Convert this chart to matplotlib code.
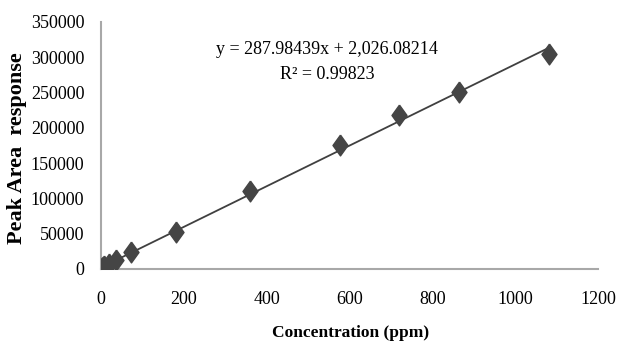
import matplotlib
matplotlib.use("Agg")
import matplotlib.pyplot as plt
import numpy as np

# calibration data
conc = [1.8, 3.6, 7.2, 18, 36, 72, 180, 360, 576, 720, 864, 1080]
area = [1500, 3200, 4800, 7500, 12500, 23500, 53000, 110000, 175000, 218000, 250500, 305000]
slope = 287.98439
intercept = 2026.08214
xticks = [0, 200, 400, 600, 800, 1000, 1200]
yticks = [0, 50000, 100000, 150000, 200000, 250000, 300000, 350000]

plt.rcParams['font.family'] = ['Liberation Serif', 'DejaVu Serif']

# diamond a bit wider than 'd', narrower than 'D'
diamond = [(0, 1), (0.72, 0), (0, -1), (-0.72, 0), (0, 1)]

fig = plt.figure(figsize=(6.2, 3.52), dpi=100)
ax = fig.add_axes([0.163, 0.236, 0.802, 0.702])

ax.plot(conc, area, linestyle='none', marker=diamond, markersize=15,
        color='#454545', zorder=3)
xfit = np.array([conc[0], conc[-1]])
ax.plot(xfit, slope * xfit + intercept, color='#404040', lw=1.3, zorder=2)

ax.set_xlim(0, 1200)
ax.set_ylim(0, 350000)
ax.set_xticks(xticks)
ax.set_yticks(yticks)
ax.set_xticklabels([str(t) for t in xticks], fontsize=13)
ax.set_yticklabels([str(t) for t in yticks], fontsize=13)
ax.tick_params(length=0)
ax.tick_params(axis='y', pad=12)
ax.tick_params(axis='x', pad=16)

for s in ['top', 'right']:
    ax.spines[s].set_visible(False)
for s in ['left', 'bottom']:
    ax.spines[s].set_color('#a8a8a8')
    ax.spines[s].set_linewidth(1.5)

ax.text(0.455, 0.887, 'y = 287.98439x + 2,026.08214', transform=ax.transAxes,
        ha='center', va='center', fontsize=13)
ax.text(0.455, 0.787, 'R² = 0.99823', transform=ax.transAxes,
        ha='center', va='center', fontsize=13)

fig.text(0.565, 0.055, 'Concentration (ppm)', ha='center', va='center',
         fontsize=12.5, fontweight='bold')
fig.text(0.027, 0.58, 'Peak Area  response', ha='center', va='center',
         rotation=90, fontsize=16, fontweight='bold')

fig.savefig('out.png', dpi=100)
